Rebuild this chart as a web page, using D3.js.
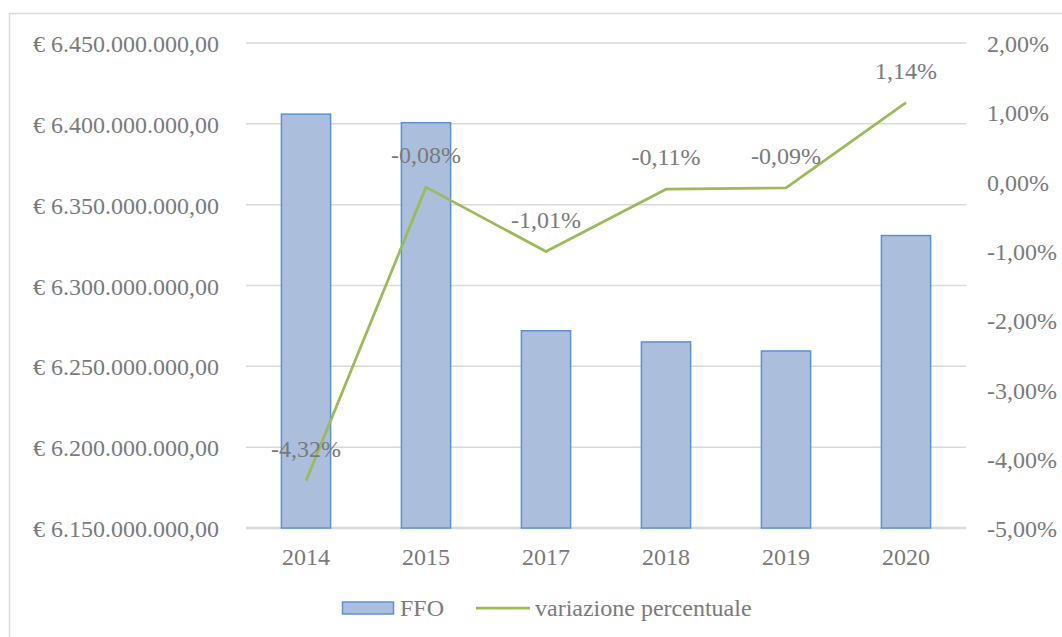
<!DOCTYPE html>
<html>
<head>
<meta charset="utf-8">
<script src="https://cdn.jsdelivr.net/npm/d3@7"></script>
<style>
	body { margin: 0; background: #fff; }
	svg text { font-family: "Liberation Serif", "Times New Roman", "DejaVu Serif", serif; fill: #7a7a7a; }
</style>
</head>
<body>
<div id="chart"></div>
<script>
// dati
const years = ["2014", "2015", "2017", "2018", "2019", "2020"];
const ffo = [6406000000, 6400700000, 6272000000, 6265100000, 6259500000, 6330900000];
const variazione = [-4.32, -0.08, -1.01, -0.11, -0.09, 1.14];
const leftTicks = [6150000000, 6200000000, 6250000000, 6300000000, 6350000000, 6400000000, 6450000000];
const rightTicks = [-5, -4, -3, -2, -1, 0, 1, 2];

const W = 1062, H = 637;
const margin = {top: 43, right: 96, bottom: 109, left: 246};
const innerW = W - margin.left - margin.right;
const innerH = H - margin.top - margin.bottom;
const fontSize = "24px";

const svg = d3.select("#chart").append("svg")
	.attr("width", W)
	.attr("height", H);

// cornice esterna
svg.append("rect")
	.attr("x", 9.5).attr("y", 13.5)
	.attr("width", W).attr("height", H)
	.attr("fill", "none")
	.attr("stroke", "#d9d9d9")
	.attr("stroke-width", 1.5);

const g = svg.append("g").attr("transform", `translate(${margin.left},${margin.top})`);

const x = d3.scaleBand().domain(years).range([0, innerW]).paddingInner(0.59).paddingOuter(0.295);
const yL = d3.scaleLinear().domain([6150000000, 6450000000]).range([innerH, 0]);
const yR = d3.scaleLinear().domain([-5, 2]).range([innerH, 0]);

const fmtEuro = v => "€ " + (v).toLocaleString("de-DE", {minimumFractionDigits: 2, maximumFractionDigits: 2});
const fmtPct = v => v.toFixed(2).replace(".", ",") + "%";

// griglia
g.append("g")
	.selectAll("line")
	.data(leftTicks)
	.join("line")
	.attr("x1", 0).attr("x2", innerW)
	.attr("y1", d => yL(d)).attr("y2", d => yL(d))
	.attr("stroke", "#d9d9d9")
	.attr("stroke-width", d => d === 6150000000 ? 2.5 : 1.5);

// asse sinistro
const axL = g.append("g")
	.call(d3.axisLeft(yL).tickValues(leftTicks).tickFormat(fmtEuro).tickSize(0).tickPadding(27));
axL.select(".domain").remove();
axL.attr("font-family", null);
axL.selectAll("text")
	.style("font-size", fontSize)
	.attr("dy", "0.36em");

// asse destro
const axR = g.append("g")
	.attr("transform", `translate(${innerW},0)`)
	.call(d3.axisRight(yR).tickValues(rightTicks).tickFormat(fmtPct).tickSize(0).tickPadding(21));
axR.select(".domain").remove();
axR.attr("font-family", null);
axR.selectAll("text")
	.style("font-size", fontSize)
	.attr("dy", "0.36em");

// asse x
const axX = g.append("g")
	.attr("transform", `translate(0,${innerH})`)
	.call(d3.axisBottom(x).tickSize(0).tickPadding(20));
axX.select(".domain").remove();
axX.attr("font-family", null);
axX.selectAll("text")
	.style("font-size", fontSize);

// barre FFO
g.selectAll(".bar")
	.data(years.map((d, i) => ({year: d, value: ffo[i]})))
	.join("rect")
	.attr("class", "bar")
	.attr("x", d => x(d.year))
	.attr("y", d => yL(d.value))
	.attr("width", x.bandwidth())
	.attr("height", d => innerH - yL(d.value))
	.attr("fill", "#abbfdd")
	.attr("stroke", "#5b90d8")
	.attr("stroke-width", 1.5);

// linea variazione
const pts = years.map((d, i) => ({year: d, value: variazione[i]}));
const line = d3.line()
	.x(d => x(d.year) + x.bandwidth() / 2)
	.y(d => yR(d.value));

g.append("path")
	.datum(pts)
	.attr("fill", "none")
	.attr("stroke", "#9bbb59")
	.attr("stroke-width", 2.75)
	.attr("stroke-linejoin", "round")
	.attr("d", line);

g.selectAll(".lbl")
	.data(pts)
	.join("text")
	.attr("class", "lbl")
	.attr("x", d => x(d.year) + x.bandwidth() / 2)
	.attr("y", d => yR(d.value) - 24)
	.attr("text-anchor", "middle")
	.style("font-size", fontSize)
	.text(d => fmtPct(d.value));

// legenda
const leg = svg.append("g").attr("transform", "translate(0,608)");
leg.append("rect")
	.attr("x", 342.5).attr("y", -6)
	.attr("width", 51).attr("height", 12)
	.attr("fill", "#abbfdd")
	.attr("stroke", "#5b90d8")
	.attr("stroke-width", 1.5);
leg.append("text")
	.attr("x", 400).attr("y", 8)
	.style("font-size", fontSize)
	.text("FFO");
leg.append("line")
	.attr("x1", 476).attr("x2", 530)
	.attr("y1", 0).attr("y2", 0)
	.attr("stroke", "#9bbb59")
	.attr("stroke-width", 2.75);
leg.append("text")
	.attr("x", 535).attr("y", 8)
	.style("font-size", fontSize)
	.text("variazione percentuale");
</script>
</body>
</html>
